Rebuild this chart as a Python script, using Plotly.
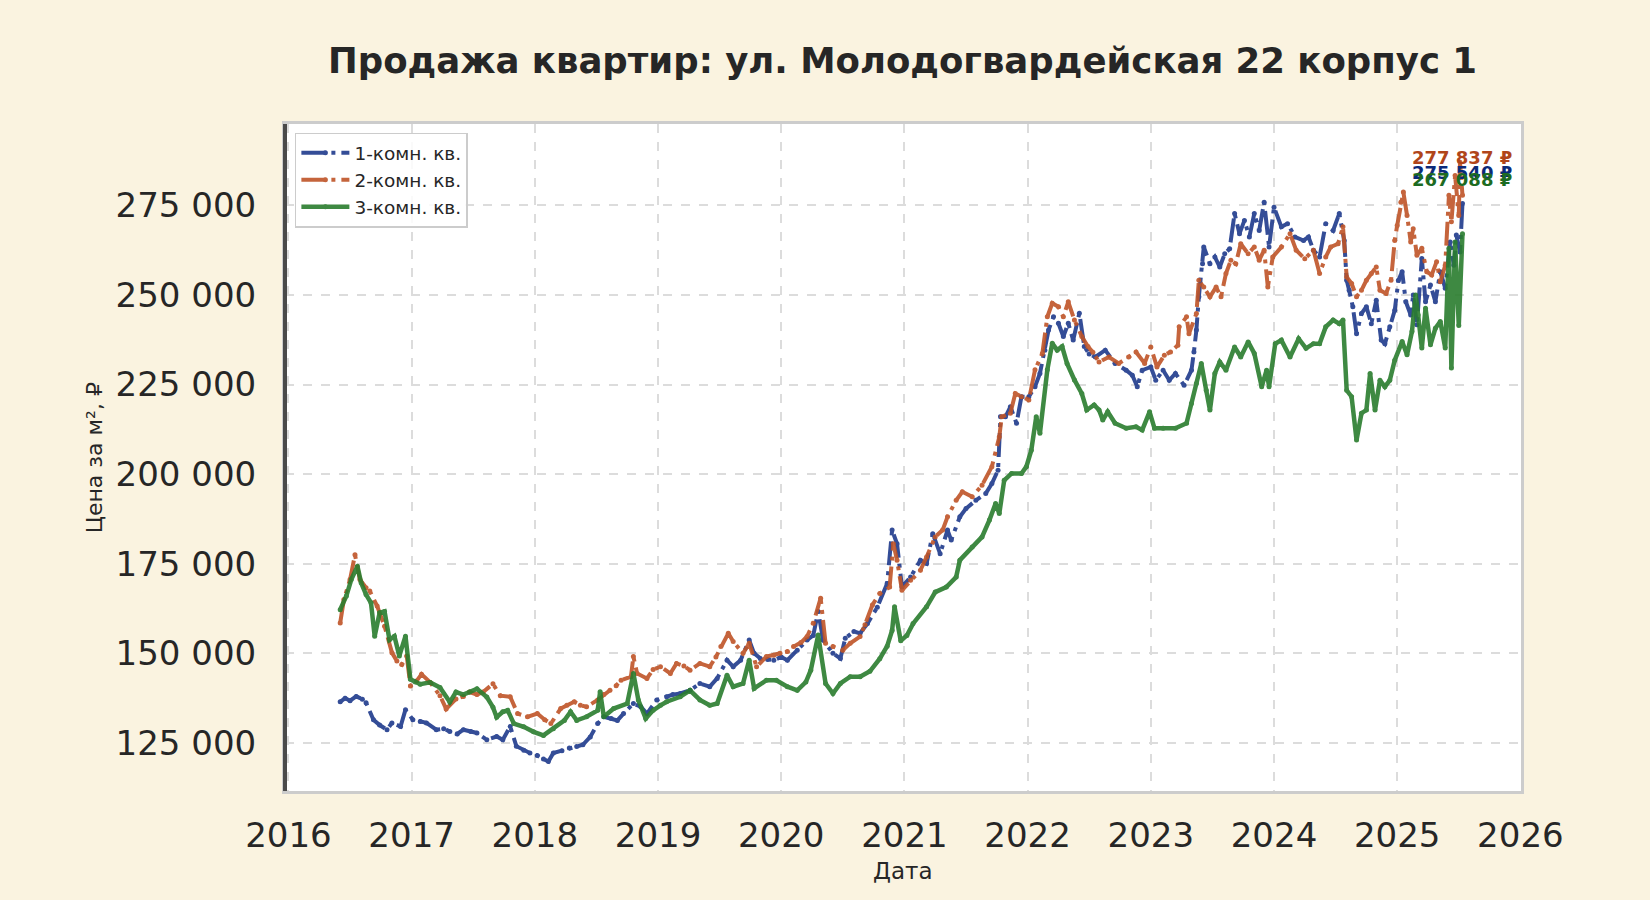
import plotly.graph_objects as go

# Цена за м² в тыс. ₽, время — дробный год
t_1k = [2016.42, 2016.46, 2016.50, 2016.55, 2016.60, 2016.63, 2016.69, 2016.74, 2016.80, 2016.84,
        2016.91, 2016.95, 2017.01, 2017.07, 2017.12, 2017.20, 2017.26, 2017.31, 2017.37, 2017.42,
        2017.48, 2017.53, 2017.61, 2017.69, 2017.74, 2017.80, 2017.85, 2017.91, 2017.96, 2018.02,
        2018.07, 2018.11, 2018.15, 2018.22, 2018.28, 2018.34, 2018.39, 2018.45, 2018.51, 2018.56,
        2018.62, 2018.67, 2018.72, 2018.80, 2018.86, 2018.91, 2018.99, 2019.07, 2019.12, 2019.18,
        2019.26, 2019.34, 2019.42, 2019.48, 2019.56, 2019.61, 2019.67, 2019.74, 2019.78, 2019.83,
        2019.89, 2019.94, 2020.00, 2020.05, 2020.13, 2020.21, 2020.26, 2020.30, 2020.34, 2020.42,
        2020.48, 2020.52, 2020.59, 2020.64, 2020.70, 2020.78, 2020.86, 2020.90, 2020.94, 2020.98,
        2021.05, 2021.13, 2021.18, 2021.23, 2021.29, 2021.35, 2021.38, 2021.45, 2021.50, 2021.58,
        2021.66, 2021.71, 2021.76, 2021.78, 2021.82, 2021.86, 2021.91, 2021.95, 2022.01, 2022.06,
        2022.10, 2022.14, 2022.17, 2022.21, 2022.25, 2022.29, 2022.33, 2022.37, 2022.42, 2022.46,
        2022.50, 2022.55, 2022.63, 2022.71, 2022.80, 2022.85, 2022.89, 2022.93, 2023.00, 2023.04,
        2023.10, 2023.15, 2023.20, 2023.27, 2023.33, 2023.35, 2023.37, 2023.39, 2023.42, 2023.43,
        2023.48, 2023.52, 2023.56, 2023.60, 2023.64, 2023.68, 2023.72, 2023.76, 2023.80, 2023.84,
        2023.88, 2023.92, 2023.96, 2024.00, 2024.06, 2024.11, 2024.17, 2024.24, 2024.28, 2024.32,
        2024.37, 2024.42, 2024.48, 2024.53, 2024.57, 2024.59, 2024.61, 2024.64, 2024.67, 2024.71,
        2024.75, 2024.79, 2024.83, 2024.87, 2024.90, 2024.94, 2024.98, 2025.01, 2025.04, 2025.07,
        2025.11, 2025.13, 2025.16, 2025.20, 2025.23, 2025.27, 2025.31, 2025.35, 2025.39, 2025.43,
        2025.46, 2025.48, 2025.51, 2025.53]
p_1k = [136.5, 137.5, 136.8, 138.0, 137.2, 136.2, 131.5, 130.0, 128.7, 130.6,
        129.6, 134.3, 131.5, 131.0, 130.6, 128.7, 129.0, 128.2, 127.5, 128.7,
        128.2, 127.8, 125.9, 126.8, 125.9, 129.6, 124.1, 123.0, 122.2, 121.5,
        120.5, 119.8, 122.2, 122.8, 123.6, 124.0, 124.5, 126.7, 130.4, 132.3,
        131.8, 131.3, 133.2, 136.0, 135.1, 133.2, 137.0, 137.9, 138.5, 138.8,
        139.7, 141.6, 140.7, 143.0, 148.1, 146.3, 148.1, 153.7, 150.0, 148.6,
        148.3, 148.1, 149.0, 148.1, 150.9, 153.7, 155.0, 161.7, 153.7, 150.0,
        148.6, 154.2, 156.1, 155.6, 158.3, 162.9, 169.5, 184.4, 180.6, 168.5,
        171.3, 176.0, 175.1, 183.4, 177.8, 184.4, 181.6, 188.1, 190.4, 192.7,
        194.6, 197.4, 201.1, 216.0, 216.0, 218.8, 214.2, 221.6, 221.6, 224.4,
        228.1, 234.6, 240.2, 243.9, 242.1, 238.4, 242.1, 237.4, 244.9, 235.6,
        233.5, 232.7, 234.6, 230.9, 229.0, 227.6, 224.4, 229.0, 229.9, 226.2,
        229.0, 226.2, 228.1, 224.8, 229.0, 234.1, 240.2, 249.5, 258.7, 263.4,
        258.7, 260.6, 257.8, 261.5, 262.9, 272.7, 267.1, 270.8, 266.2, 272.7,
        268.0, 275.9, 263.4, 274.5, 269.0, 269.9, 266.2, 265.2, 266.2, 262.5,
        260.6, 269.9, 268.0, 272.7, 265.2, 254.1, 251.3, 246.7, 239.2, 244.8,
        246.7, 242.0, 248.5, 237.4, 236.4, 241.1, 245.7, 254.1, 256.5, 248.1,
        244.4, 250.0, 241.7, 260.2, 248.1, 252.8, 248.1, 256.5, 251.9, 264.8,
        258.3, 266.7, 262.0, 275.54]

t_2k = [2016.42, 2016.45, 2016.50, 2016.54, 2016.58, 2016.63, 2016.66, 2016.72, 2016.78, 2016.84,
        2016.88, 2016.92, 2016.96, 2016.99, 2017.04, 2017.08, 2017.15, 2017.23, 2017.28, 2017.36,
        2017.42, 2017.47, 2017.53, 2017.58, 2017.66, 2017.72, 2017.80, 2017.86, 2017.94, 2018.02,
        2018.08, 2018.13, 2018.21, 2018.26, 2018.32, 2018.37, 2018.42, 2018.51, 2018.56, 2018.61,
        2018.66, 2018.70, 2018.78, 2018.80, 2018.83, 2018.91, 2018.96, 2019.02, 2019.10, 2019.15,
        2019.21, 2019.26, 2019.34, 2019.42, 2019.47, 2019.51, 2019.57, 2019.61, 2019.69, 2019.74,
        2019.80, 2019.88, 2019.94, 2019.99, 2020.05, 2020.10, 2020.16, 2020.21, 2020.26, 2020.32,
        2020.36, 2020.42, 2020.50, 2020.56, 2020.64, 2020.68, 2020.74, 2020.80, 2020.88, 2020.91,
        2020.94, 2020.98, 2021.05, 2021.13, 2021.18, 2021.25, 2021.31, 2021.35, 2021.42, 2021.47,
        2021.55, 2021.63, 2021.71, 2021.77, 2021.79, 2021.86, 2021.90, 2021.95, 2022.01, 2022.06,
        2022.12, 2022.16, 2022.20, 2022.25, 2022.29, 2022.33, 2022.38, 2022.44, 2022.49, 2022.53,
        2022.58, 2022.66, 2022.74, 2022.82, 2022.88, 2022.95, 2023.00, 2023.05, 2023.11, 2023.16,
        2023.22, 2023.23, 2023.29, 2023.31, 2023.37, 2023.39, 2023.43, 2023.48, 2023.53, 2023.57,
        2023.61, 2023.65, 2023.69, 2023.73, 2023.79, 2023.84, 2023.88, 2023.92, 2023.95, 2023.99,
        2024.06, 2024.13, 2024.18, 2024.25, 2024.32, 2024.37, 2024.42, 2024.46, 2024.52, 2024.56,
        2024.59, 2024.63, 2024.67, 2024.71, 2024.75, 2024.79, 2024.83, 2024.86, 2024.91, 2024.95,
        2024.98, 2025.00, 2025.03, 2025.05, 2025.08, 2025.11, 2025.13, 2025.16, 2025.20, 2025.24,
        2025.28, 2025.32, 2025.35, 2025.39, 2025.42, 2025.44, 2025.47, 2025.50, 2025.51, 2025.53]
p_2k = [158.5, 165.0, 170.6, 177.5, 170.6, 168.3, 167.4, 163.2, 157.6, 150.2,
        147.9, 146.9, 149.3, 140.9, 142.3, 144.2, 141.9, 138.2, 134.5, 137.3,
        138.0, 139.2, 138.5, 139.2, 141.5, 138.2, 137.9, 133.2, 132.3, 133.2,
        131.5, 130.4, 134.6, 135.5, 136.5, 135.5, 135.1, 137.0, 138.5, 139.7,
        141.0, 142.5, 143.5, 149.1, 144.4, 143.0, 145.5, 146.3, 144.4, 147.2,
        146.5, 145.3, 147.2, 146.3, 149.0, 151.9, 155.6, 153.3, 150.0, 152.8,
        146.3, 149.1, 149.5, 150.0, 150.5, 151.9, 153.0, 154.7, 158.4, 165.4,
        152.8, 151.9, 150.9, 152.8, 154.7, 158.0, 163.5, 166.7, 168.5, 180.6,
        176.0, 167.6, 170.4, 173.2, 176.9, 182.5, 184.4, 188.1, 192.7, 195.1,
        193.7, 196.9, 202.1, 210.4, 216.0, 217.0, 222.5, 221.6, 220.7, 229.1,
        233.7, 243.9, 247.7, 246.7, 243.9, 248.1, 243.0, 238.4, 235.6, 234.0,
        231.3, 232.7, 230.9, 232.7, 234.1, 230.9, 235.5, 229.9, 233.2, 234.1,
        236.0, 241.1, 243.9, 239.2, 244.8, 254.1, 252.2, 249.5, 252.2, 249.5,
        256.0, 259.7, 258.7, 264.3, 261.5, 263.4, 259.7, 262.5, 252.2, 260.6,
        263.4, 267.1, 262.5, 260.1, 262.5, 256.0, 260.6, 263.4, 264.3, 269.0,
        255.0, 253.2, 249.5, 251.3, 254.1, 256.0, 257.8, 251.3, 250.4, 254.1,
        265.2, 269.4, 275.9, 278.7, 272.2, 264.8, 268.5, 261.1, 263.0, 256.5,
        255.6, 259.3, 253.7, 258.3, 277.8, 270.4, 283.3, 272.2, 287.0, 277.837]

t_3k = [2016.42, 2016.47, 2016.51, 2016.56, 2016.59, 2016.63, 2016.67, 2016.70, 2016.74, 2016.78,
        2016.82, 2016.86, 2016.90, 2016.95, 2016.99, 2017.03, 2017.07, 2017.15, 2017.23, 2017.31,
        2017.36, 2017.42, 2017.47, 2017.53, 2017.61, 2017.66, 2017.69, 2017.74, 2017.78, 2017.83,
        2017.91, 2017.99, 2018.07, 2018.15, 2018.24, 2018.29, 2018.34, 2018.42, 2018.51, 2018.53,
        2018.56, 2018.64, 2018.75, 2018.80, 2018.84, 2018.90, 2018.96, 2019.02, 2019.07, 2019.18,
        2019.26, 2019.34, 2019.42, 2019.48, 2019.56, 2019.61, 2019.69, 2019.74, 2019.78, 2019.88,
        2019.96, 2020.05, 2020.13, 2020.20, 2020.24, 2020.30, 2020.36, 2020.42, 2020.48, 2020.56,
        2020.64, 2020.72, 2020.80, 2020.86, 2020.90, 2020.92, 2020.97, 2021.02, 2021.07, 2021.18,
        2021.25, 2021.34, 2021.42, 2021.45, 2021.55, 2021.63, 2021.69, 2021.74, 2021.77, 2021.81,
        2021.87, 2021.95, 2021.99, 2022.03, 2022.07, 2022.10, 2022.16, 2022.20, 2022.24, 2022.28,
        2022.32, 2022.38, 2022.44, 2022.48, 2022.54, 2022.58, 2022.61, 2022.65, 2022.71, 2022.80,
        2022.88, 2022.93, 2022.99, 2023.03, 2023.10, 2023.20, 2023.29, 2023.33, 2023.37, 2023.41,
        2023.45, 2023.48, 2023.52, 2023.56, 2023.61, 2023.68, 2023.73, 2023.79, 2023.84, 2023.90,
        2023.94, 2023.96, 2024.01, 2024.06, 2024.13, 2024.20, 2024.26, 2024.32, 2024.37, 2024.42,
        2024.48, 2024.53, 2024.56, 2024.59, 2024.63, 2024.67, 2024.71, 2024.75, 2024.78, 2024.82,
        2024.86, 2024.90, 2024.94, 2024.98, 2025.04, 2025.08, 2025.12, 2025.15, 2025.17, 2025.20,
        2025.23, 2025.27, 2025.31, 2025.35, 2025.39, 2025.42, 2025.44, 2025.47, 2025.50, 2025.53]
p_3k = [162.2, 166.0, 170.6, 174.3, 169.7, 166.4, 164.1, 154.8, 161.3, 161.7,
        153.8, 154.8, 149.3, 154.8, 142.8, 142.0, 141.4, 141.9, 140.5, 136.4,
        139.2, 138.5, 139.2, 140.1, 137.8, 135.0, 132.2, 133.7, 134.1, 130.4,
        129.5, 128.1, 127.1, 129.0, 131.3, 133.7, 131.3, 132.3, 134.1, 139.3,
        132.3, 134.6, 136.0, 144.4, 137.0, 131.8, 134.1, 135.5, 136.5, 137.9,
        139.7, 137.0, 135.5, 136.0, 143.9, 140.7, 141.6, 148.1, 140.2, 142.5,
        142.5, 140.7, 139.7, 142.0, 145.3, 155.1, 141.6, 138.8, 141.6, 143.5,
        143.5, 145.0, 148.5, 152.0, 156.4, 163.0, 153.5, 155.0, 158.3, 163.0,
        167.1, 168.5, 171.3, 176.0, 179.7, 182.5, 187.2, 191.8, 189.0, 198.3,
        200.2, 200.2, 202.1, 206.7, 216.0, 211.4, 229.1, 236.5, 234.6, 235.6,
        230.9, 226.3, 222.5, 217.9, 219.3, 217.9, 215.1, 217.4, 214.2, 212.8,
        213.2, 212.3, 217.4, 212.8, 212.8, 212.8, 214.2, 219.7, 225.3, 230.9,
        223.4, 217.9, 228.1, 231.3, 229.0, 235.5, 232.7, 236.9, 233.7, 224.4,
        229.0, 224.4, 236.4, 237.4, 232.7, 237.8, 235.1, 236.4, 236.4, 241.1,
        243.0, 242.0, 243.0, 223.4, 221.6, 209.5, 217.0, 217.9, 228.1, 217.9,
        226.2, 224.4, 226.2, 231.8, 237.0, 233.3, 239.8, 250.0, 244.4, 235.2,
        246.3, 236.1, 240.7, 242.6, 235.2, 263.0, 229.6, 264.8, 241.5, 267.088]

names = ["1-комн. кв.", "2-комн. кв.", "3-комн. кв."]
line_colors = ["#1f3a8c", "#bf5427", "#2a7d2e"]
label_colors = ["#0b2a7a", "#b0451a", "#1d6b22"]
dashes = ["24px,6px,4px,6px", "24px,6px,4px,6px", "solid"]
label_shift = [31, 38, 54]

fig = go.Figure()

labels = []
for i, (t, p) in enumerate([(t_1k, p_1k), (t_2k, p_2k), (t_3k, p_3k)]):
    y = [v * 1000 for v in p]
    fig.add_trace(go.Scatter(
        x=t, y=y, name=names[i], mode="lines+markers",
        line=dict(color=line_colors[i], width=4.5 if i == 2 else 4, dash=dashes[i]),
        marker=dict(size=5, color=line_colors[i]),
        opacity=0.9,
    ))
    last = round(y[-1])
    labels.append(dict(
        x=t[-1], y=y[-1], text=f"{last:,}".replace(",", " ") + " ₽",
        showarrow=False, yshift=label_shift[i], xanchor="center",
        font=dict(family="DejaVu Sans", size=18, color=label_colors[i], weight="bold"),
    ))

# оранжевая подпись внизу стопки, синяя над ней, зелёная сверху (как в оригинале)
for k in [1, 0, 2]:
    fig.add_annotation(**labels[k])

fig.add_shape(type="line", xref="paper", yref="paper", x0=0, x1=0, y0=0, y1=1,
              line=dict(color="#4a4a4a", width=4), layer="above")

fig.add_annotation(text="Дата", xref="paper", yref="paper", x=0.5, y=-0.12,
                   showarrow=False, yanchor="middle",
                   font=dict(family="DejaVu Sans", size=23, color="#262626"))
fig.add_annotation(text="Цена за м², ₽", xref="paper", yref="paper", x=-0.154, y=0.5,
                   showarrow=False, textangle=-90, xanchor="center",
                   font=dict(family="DejaVu Sans", size=22, color="#262626"))

fig.update_layout(
    width=1650, height=900,
    paper_bgcolor="#FAF3E0", plot_bgcolor="white",
    margin=dict(l=285, r=129, t=124, b=109),
    separators=", ",
    font=dict(family="DejaVu Sans", color="#262626"),
    title=dict(text="Продажа квартир: ул. Молодогвардейская 22 корпус 1",
               x=0.547, xanchor="center", y=0.933, yanchor="middle",
               font=dict(family="DejaVu Sans", size=35.5, color="#262626", weight="bold")),
    legend=dict(x=0.008, y=0.987, xanchor="left", yanchor="top",
                bgcolor="rgba(255,255,255,0.85)", bordercolor="#cccccc", borderwidth=1.5,
                font=dict(family="DejaVu Sans", size=18.5, color="#262626"),
                itemwidth=48, tracegroupgap=0),
    showlegend=True,
)

fig.update_xaxes(range=[2015.972, 2026.005], tickmode="linear", tick0=2016, dtick=1,
                 tickformat="d", showgrid=True, gridcolor="#dcdcdc", gridwidth=2, griddash="dash",
                 zeroline=False, showline=True, mirror=True, linecolor="#cccccc", linewidth=3,
                 ticks="", ticklabelstandoff=12,
                 tickfont=dict(family="DejaVu Sans", size=34, color="#262626"))
fig.update_yaxes(range=[111600, 297700], tickvals=[125000, 150000, 175000, 200000, 225000, 250000, 275000],
                 tickformat=",d", showgrid=True, gridcolor="#dcdcdc", gridwidth=2, griddash="dash",
                 zeroline=False, showline=True, mirror=True, linecolor="#cccccc", linewidth=3,
                 ticks="", ticklabelstandoff=19,
                 tickfont=dict(family="DejaVu Sans", size=34, color="#262626"))

fig.write_html("out.html", config={"displayModeBar": False},
               post_script="document.body.style.margin='0';"
                           "document.body.style.background='#FAF3E0';")
